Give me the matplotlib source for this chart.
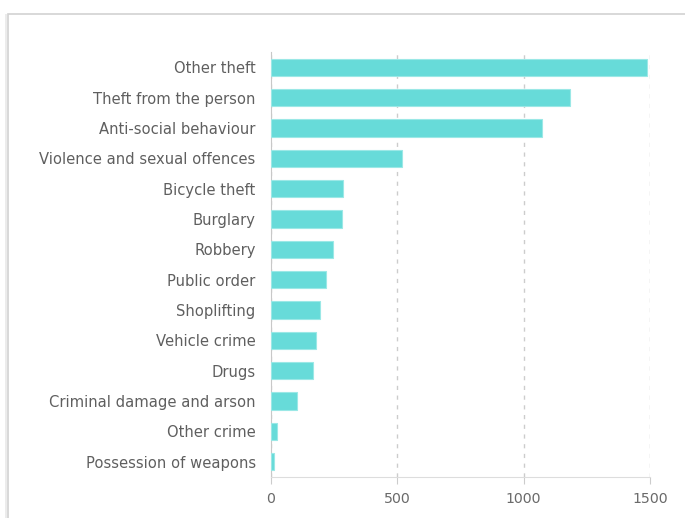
import matplotlib.pyplot as plt
from matplotlib.patches import Rectangle


# =========================
# data
# =========================
categories = [
    "Other theft", "Theft from the person", "Anti-social behaviour",
    "Violence and sexual offences", "Bicycle theft", "Burglary", "Robbery",
    "Public order", "Shoplifting", "Vehicle crime", "Drugs",
    "Criminal damage and arson", "Other crime", "Possession of weapons",
]
counts = [1487, 1183, 1071, 517, 285, 281, 245, 218, 194, 178, 166, 102, 22, 12]
xticks = [0, 500, 1000, 1500]


# =========================
# plot
# =========================
fig = plt.figure(figsize=(6.85, 5.18), dpi=100)
ax = fig.add_axes([271 / 685, 1 - 477 / 518, 379 / 685, 425 / 518])

# screenshot frame (left + top edge)
fig.patches.append(Rectangle((8 / 685, -0.1), 1.2, 1 - 14 / 518 + 0.1,
                             transform=fig.transFigure, fill=False,
                             edgecolor="#d2d2d2", linewidth=1.2))
fig.patches.append(Rectangle((5 / 685, -0.1), 2 / 685, 1 - 14 / 518 + 0.1,
                             transform=fig.transFigure, facecolor="#ececec",
                             edgecolor="none"))

ypos = list(range(len(categories)))
ax.barh(ypos, counts, height=0.57, color="#67dbd9", edgecolor="#9be8e6",
        linewidth=0.8, zorder=3)

ax.set_xlim(0, 1500)
ax.set_ylim(len(categories) - 0.5, -0.5)
ax.set_yticks(ypos)
ax.set_yticklabels(categories)
ax.set_xticks(xticks)

ax.grid(axis="x", color="#cccccc", linestyle=(0, (3, 4)), linewidth=1.0, zorder=0)
for side in ["top", "right"]:
    ax.spines[side].set_visible(False)
ax.spines["left"].set_color("#c8c8c8")
ax.spines["bottom"].set_color("#dddddd")
ax.tick_params(axis="y", length=0, pad=11, labelsize=10.6, labelcolor="#5f5f5f")
ax.tick_params(axis="x", length=5, color="#cccccc", pad=6, labelsize=10.2,
               labelcolor="#6a6a6a")

fig.savefig("out.png", dpi=100)
